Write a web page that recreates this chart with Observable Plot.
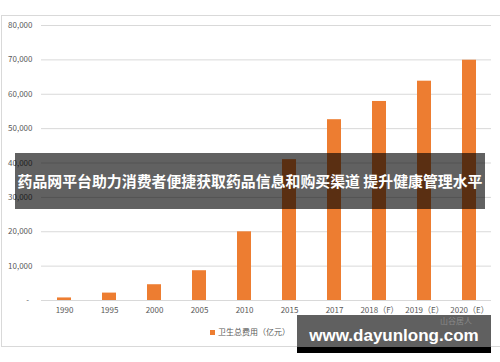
<!DOCTYPE html>
<html>
<head>
<meta charset="utf-8">
<script src="https://cdn.jsdelivr.net/npm/d3@7"></script>
<script src="https://cdn.jsdelivr.net/npm/@observablehq/plot@0.6"></script>
<style>
  html, body { margin: 0; padding: 0; background: #fff; }
  #wrap { position: relative; width: 500px; height: 362px; overflow: hidden; font-family: "Noto Sans CJK SC", "Noto Sans", sans-serif; }
  #frame { position: absolute; left: 1px; top: 15px; width: 520px; height: 330px; border: 1px solid #d9d9d9; box-sizing: content-box; }
  #chart { position: absolute; left: 0; top: 0; }
  #legend { position: absolute; left: 0; width: 500px; top: 325px; height: 14px; text-align: center; font-size: 8px; color: #595959; line-height: 14px; }
  #legend .sw { display: inline-block; width: 5px; height: 5px; background: #ED7D31; margin-right: 3px; vertical-align: 0px; }
  #banner { position: absolute; left: 15px; top: 153px; width: 470px; height: 56px; background: rgba(0,0,0,0.62); }
  #bannertext { position: absolute; left: 0; top: 153px; width: 500px; height: 56px; color: #fff; font-weight: bold; font-size: 14.9px; line-height: 56px; text-align: center; white-space: nowrap; }
  #wm { position: absolute; left: 297px; top: 315px; width: 194px; height: 32px; background: #606060; }
  #wmbar { position: absolute; left: 297px; top: 347px; width: 194px; height: 6px; background: #000; }
  #wmfaint { position: absolute; left: 440px; top: 317px; font-size: 8px; color: #8a8a8a; line-height: 8px; height: 8px; }
  #wmtext { position: absolute; left: 297px; top: 328px; width: 194px; text-align: center; color: #fff; font-family: "Liberation Sans", Arial, sans-serif; font-weight: bold; font-size: 17px; line-height: 16px; }
</style>
</head>
<body>
<div id="wrap">
  <div id="frame"></div>
  <div id="chart"></div>
  <div id="legend"><span class="sw"></span><span id="legtext"></span></div>
  <div id="banner"></div>
  <div id="bannertext"></div>
  <div id="wm"></div>
  <div id="wmbar"></div>
  <div id="wmfaint">山谷居人</div>
  <div id="wmtext"></div>
</div>
<script>
const categories = ["1990", "1995", "2000", "2005", "2010", "2015", "2017", "2018（F）", "2019（E）", "2020（E）"];
const values = [747, 2155, 4587, 8660, 19980, 40975, 52598, 57900, 63800, 69900];
const yTicks = [0, 10000, 20000, 30000, 40000, 50000, 60000, 70000, 80000];
const seriesName = "卫生总费用（亿元）";
const bannerTitle = "药品网平台助力消费者便捷获取药品信息和购买渠道 提升健康管理水平";
const watermark = "www.dayunlong.com";

const data = categories.map((c, i) => ({year: c, value: values[i]}));
const fmt = d3.format(",");

const chart = Plot.plot({
  width: 500,
  height: 322,
  marginLeft: 41,
  marginRight: 9,
  marginTop: 25,
  marginBottom: 22,
  style: {fontFamily: "'Noto Sans CJK SC', 'Noto Sans', sans-serif", fontSize: "8px", color: "#595959", background: "transparent"},
  x: {domain: categories, paddingInner: 0.69, paddingOuter: 0.345, label: null},
  y: {domain: [0, 80000], label: null},
  marks: [
    Plot.gridY(yTicks, {stroke: "#d9d9d9", strokeOpacity: 1, strokeWidth: 1}),
    Plot.barY(data, {x: "year", y: "value", fill: "#ED7D31"}),
    Plot.axisY(yTicks, {tickSize: 0, tickPadding: 9, tickFormat: d => d === 0 ? "-\u00a0\u00a0" : fmt(d), label: null, fontSize: 8}),
    Plot.axisX({tickSize: 0, tickPadding: 7, label: null, fontSize: 8})
  ]
});
document.getElementById("chart").appendChild(chart);
document.getElementById("legtext").textContent = seriesName;
document.getElementById("bannertext").textContent = bannerTitle;
document.getElementById("wmtext").textContent = watermark;
</script>
</body>
</html>
